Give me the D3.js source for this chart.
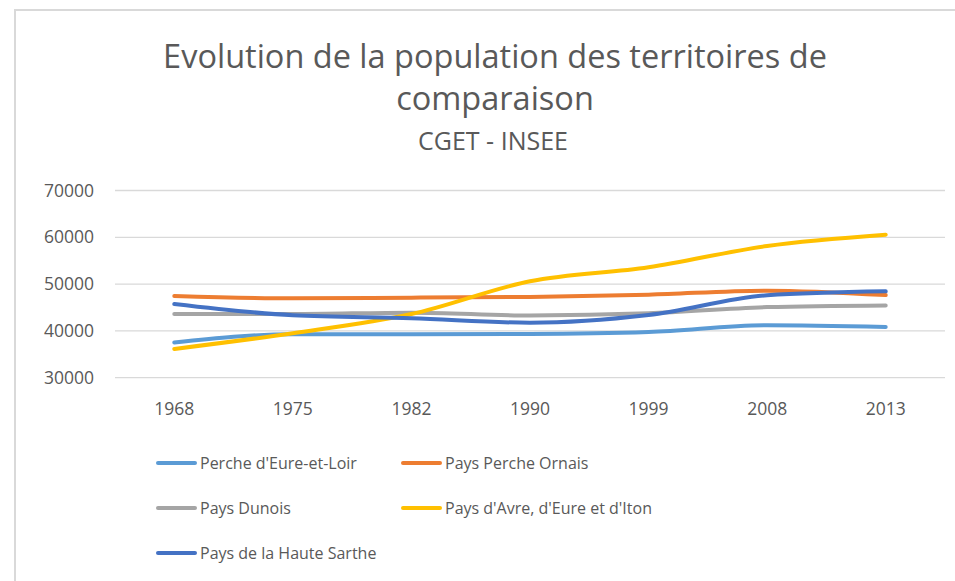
<!DOCTYPE html>
<html>
<head>
<meta charset="utf-8">
<script src="https://cdn.jsdelivr.net/npm/d3@7"></script>
<style>
  body { margin: 0; background: #fff; }
  svg { font-family: "Open Sans", sans-serif; }
</style>
</head>
<body>
<svg id="chart"></svg>
<script>
// categories (census years)
const years = ["1968", "1975", "1982", "1990", "1999", "2008", "2013"];

// series values
const percheEureLoir = [37500, 39300, 39300, 39350, 39750, 41200, 40850];
const paysPercheOrnais = [47450, 46950, 47100, 47250, 47750, 48600, 47650];
const paysDunois = [43600, 43600, 43900, 43300, 43750, 45100, 45450];
const paysAvre = [36150, 39500, 43600, 50600, 53600, 58150, 60550];
const hauteSarthe = [45750, 43350, 42700, 41750, 43400, 47600, 48450];

const seriesNames = ["Perche d'Eure-et-Loir", "Pays Perche Ornais", "Pays Dunois",
    "Pays d'Avre, d'Eure et d'Iton", "Pays de la Haute Sarthe"];
const seriesValues = [percheEureLoir, paysPercheOrnais, paysDunois, paysAvre, hauteSarthe];
const colors = ["#5B9BD5", "#ED7D31", "#A5A5A5", "#FFC000", "#4472C4"];

const yTicks = [30000, 40000, 50000, 60000, 70000];

const width = 955, height = 581;
const svg = d3.select("#chart").attr("width", width).attr("height", height);

// outer frame (only top and left edges visible)
svg.append("path")
    .attr("d", `M15,${height} V10 H${width}`)
    .attr("fill", "none")
    .attr("stroke", "#d9d9d9")
    .attr("stroke-width", 2);

// title
svg.append("text")
    .attr("x", 495).attr("y", 68)
    .attr("text-anchor", "middle")
    .attr("font-size", 32.5)
    .attr("fill", "#595959")
    .text("Evolution de la population des territoires de");
svg.append("text")
    .attr("x", 495).attr("y", 110)
    .attr("text-anchor", "middle")
    .attr("font-size", 32.5)
    .attr("fill", "#595959")
    .text("comparaison");
svg.append("text")
    .attr("x", 493).attr("y", 150)
    .attr("text-anchor", "middle")
    .attr("font-size", 25)
    .attr("fill", "#595959")
    .text("CGET - INSEE");

// scales
const x = d3.scaleBand().domain(years).range([115, 945]);
const y = d3.scaleLinear().domain([30000, 70000]).range([377.7, 190.5]);

// gridlines
svg.append("g")
    .selectAll("line")
    .data(yTicks)
    .join("line")
    .attr("x1", 115).attr("x2", 945)
    .attr("y1", d => y(d)).attr("y2", d => y(d))
    .attr("stroke", "#d9d9d9")
    .attr("stroke-width", 1.3);

// y axis labels
const yAxis = svg.append("g")
    .attr("transform", "translate(94,0)")
    .call(d3.axisLeft(y).tickValues(yTicks).tickSize(0).tickPadding(0).tickFormat(d3.format("d")))
    .attr("font-family", null)
    .attr("font-size", null);
yAxis.select(".domain").remove();
yAxis.selectAll("text")
    .attr("font-size", 17.5)
    .attr("fill", "#595959");

// x axis labels
const xAxis = svg.append("g")
    .attr("transform", "translate(0,397)")
    .call(d3.axisBottom(x).tickSize(0).tickPadding(6))
    .attr("font-family", null)
    .attr("font-size", null);
xAxis.select(".domain").remove();
xAxis.selectAll("text")
    .attr("font-size", 17.5)
    .attr("fill", "#595959");

// lines
const line = d3.line()
    .x((d, i) => x(years[i]) + x.bandwidth() / 2)
    .y(d => y(d))
    .curve(d3.curveMonotoneX);

svg.append("g")
    .selectAll("path")
    .data(seriesValues)
    .join("path")
    .attr("d", d => line(d))
    .attr("fill", "none")
    .attr("stroke", (d, i) => colors[i])
    .attr("stroke-width", 4)
    .attr("stroke-linecap", "round")
    .attr("stroke-linejoin", "round");

// legend: two columns
const legend = svg.append("g")
    .selectAll("g")
    .data(seriesNames)
    .join("g")
    .attr("transform", (d, i) => `translate(${i % 2 === 0 ? 158 : 403},${463 + Math.floor(i / 2) * 45})`);

legend.append("line")
    .attr("x1", 0).attr("x2", 37)
    .attr("stroke", (d, i) => colors[i])
    .attr("stroke-width", 4)
    .attr("stroke-linecap", "round");

legend.append("text")
    .attr("x", 42)
    .attr("dy", "0.35em")
    .attr("font-size", 16)
    .attr("fill", "#595959")
    .text(d => d);
</script>
</body>
</html>
